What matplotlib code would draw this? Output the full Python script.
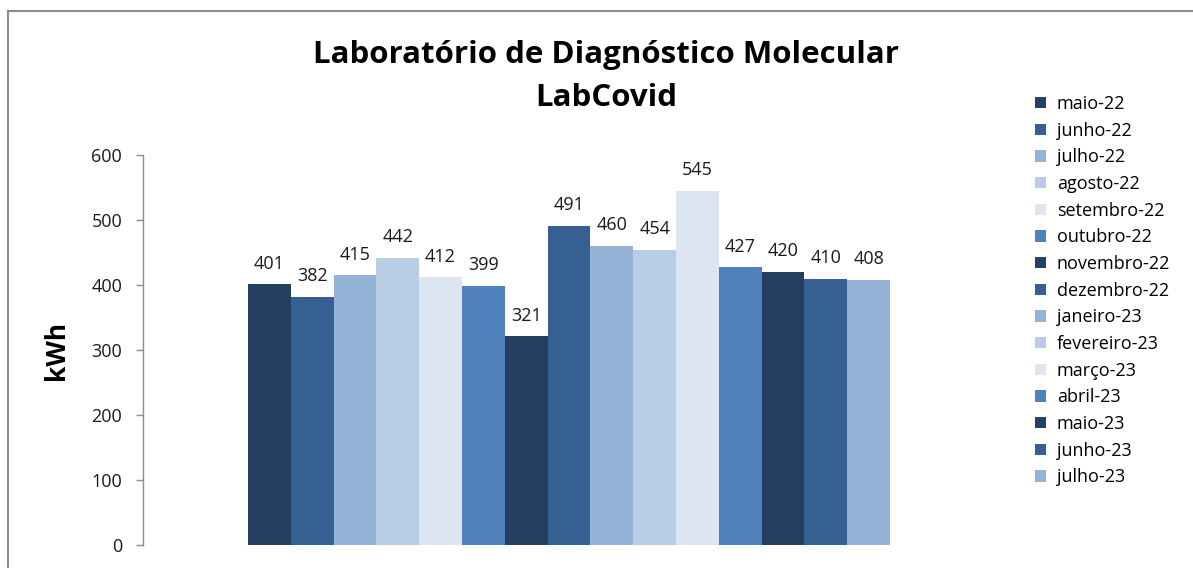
import matplotlib.pyplot as plt
from matplotlib.lines import Line2D

# ── Data ──────────────────────────────────────────────
months = ["maio-22", "junho-22", "julho-22", "agosto-22", "setembro-22",
          "outubro-22", "novembro-22", "dezembro-22", "janeiro-23",
          "fevereiro-23", "março-23", "abril-23", "maio-23", "junho-23",
          "julho-23"]
kwh = [401, 382, 415, 442, 412, 399, 321, 491, 460, 454, 545, 427, 420, 410, 408]

palette = ["#243F60", "#366092", "#95B3D7", "#B9CDE5", "#DCE6F2", "#4F81BD"]
colors = [palette[i % len(palette)] for i in range(len(months))]

yticks = [0, 100, 200, 300, 400, 500, 600]

FONT = ["Open Sans", "DejaVu Sans"]
plt.rcParams["font.family"] = FONT

W, H, DPI = 1193, 568, 100
fig = plt.figure(figsize=(W / DPI, H / DPI), dpi=DPI, facecolor="white")

# frame of the embedded chart (top + left edges visible)
fig.add_artist(Line2D([8 / W, 8 / W], [0, 1 - 11 / H], color="#8c8c8c", lw=1.5))
fig.add_artist(Line2D([8 / W, 1], [1 - 11 / H, 1 - 11 / H], color="#8c8c8c", lw=1.5))

ax = fig.add_axes([143 / W, 23 / H, 852 / W, 390 / H])
ax.set_facecolor("white")

xs = [i + 0.5 for i in range(len(months))]
bars = ax.bar(xs, kwh, width=1.0, color=colors, label=months, linewidth=0)
for x, v in zip(xs, kwh):
    ax.text(x, v + 18, f"{v}", ha="center", va="bottom", fontsize=13,
            color="#1a1a1a")

ax.set_xlim(-2.45, 17.45)
ax.set_ylim(0, 600)
ax.set_yticks(yticks)
ax.tick_params(axis="y", direction="out", length=5, width=1, color="#8c8c8c",
               labelsize=13, labelcolor="#1a1a1a", pad=10)
ax.set_xticks([])
for s in ("top", "right", "bottom"):
    ax.spines[s].set_visible(False)
ax.spines["left"].set_color("#8c8c8c")
ax.spines["left"].set_linewidth(1)

fig.text(57 / W, 1 - 350 / H, "kWh", rotation=90, ha="center", va="center",
         fontsize=19, fontweight="bold")

fig.text(606 / W, 1 - 55 / H, "Laboratório de Diagnóstico Molecular",
         ha="center", va="center", fontsize=22.5, fontweight="bold")
fig.text(606 / W, 1 - 98 / H, "LabCovid",
         ha="center", va="center", fontsize=22.5, fontweight="bold")

leg = fig.legend(handles=list(bars), labels=months, loc="upper left",
                 bbox_to_anchor=(1035 / W, 1 - 95 / H), frameon=False,
                 fontsize=13, handlelength=0.6, handleheight=0.6,
                 handletextpad=0.6, labelspacing=0.48, borderaxespad=0,
                 borderpad=0)

fig.savefig("out.png", dpi=DPI, facecolor="white")
